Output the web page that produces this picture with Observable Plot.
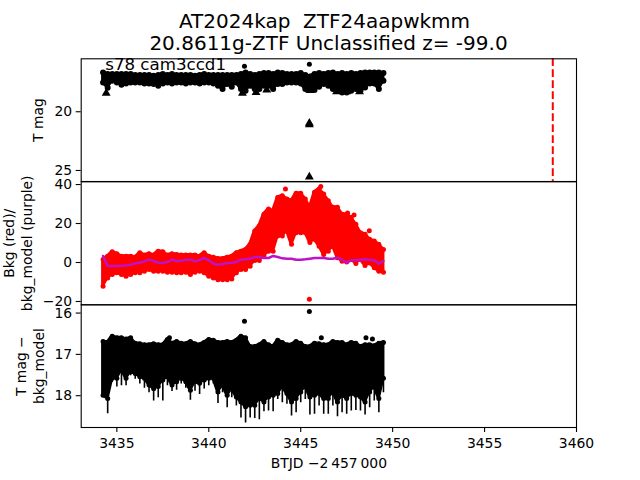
<!DOCTYPE html>
<html><head><meta charset="utf-8">
<script src="https://cdn.jsdelivr.net/npm/d3@7"></script>
<script src="https://cdn.jsdelivr.net/npm/@observablehq/plot@0.6"></script>
<style>
html,body{margin:0;padding:0;background:#fff;}
#chart{position:relative;width:640px;height:480px;overflow:hidden;font-family:"DejaVu Sans";}
#chart svg{position:absolute;left:0;top:0;}
.t{position:absolute;left:8.5px;width:640px;text-align:center;font-size:20px;line-height:22px;white-space:pre;color:#000;}
</style></head><body><div id="chart">
<div class="t" style="top:10px;left:4.5px">AT2024kap  ZTF24aapwkmm</div>
<div class="t" style="top:32px">20.8611g-ZTF Unclassified z= -99.0</div>
</div>
<script>
const btjd = [3434.25,3434.5,3434.75,3435,3435.25,3435.5,3435.75,3436,3436.25,3436.5,3436.75,3437,3437.25,3437.5,3437.75,3438,3438.25,3438.5,3438.75,3439,3439.25,3439.5,3439.75,3440,3440.25,3440.5,3440.75,3441,3441.25,3441.5,3441.75,3442,3442.25,3442.5,3442.75,3443,3443.25,3443.5,3443.75,3444,3444.25,3444.5,3444.75,3445,3445.25,3445.5,3445.75,3446,3446.25,3446.5,3446.75,3447,3447.25,3447.5,3447.75,3448,3448.25,3448.5,3448.75,3449,3449.25,3449.5];

// Top panel: T mag envelope
const magHi = [16.65,16.79,16.79,16.79,16.79,16.79,16.79,16.88,16.88,16.88,16.88,16.93,16.88,16.79,16.88,16.79,16.88,16.88,16.88,16.88,16.93,16.88,16.79,16.88,16.88,16.88,16.88,16.88,16.88,16.88,16.79,16.65,16.79,16.88,16.79,16.71,16.71,16.79,16.65,16.71,16.79,16.79,16.79,16.71,16.88,16.99,16.79,16.71,16.79,16.71,16.65,16.79,16.71,16.79,16.71,16.79,16.71,16.65,16.65,16.65,16.65,16.71];
const magLo = [17.50,17.95,17.36,17.50,17.70,17.59,17.50,17.50,17.50,17.59,17.59,17.64,17.78,17.59,17.50,17.59,17.50,17.50,17.59,17.50,17.50,17.59,17.50,17.50,17.59,17.78,18.07,17.64,17.87,17.50,18.07,18.21,17.78,18.07,18.07,17.78,17.78,18.07,17.64,17.64,17.50,17.50,17.50,17.59,18.07,18.15,18.15,17.87,17.64,17.78,18.07,18.21,18.35,18.35,18.21,18.07,18.21,17.93,17.59,17.59,18.07,17.36];
const triX = [3434.42,3441.83,3442.57,3443.15,3445.5,3446.95,3447.5,3448.2,3445.47,3445.47,3445.47];
const triMag = [18.42,18.42,18.36,18.14,18.19,18.28,18.28,18.28,20.97,21.1,25.55];
const magDotX = [3441.94,3445.47];
const magDotY = [16.13,15.96];
const dropX = [3458.71];

// Middle panel: background and its model
const bkgHi = [1.5,3.2,5.5,4.5,3.2,3.2,3.2,2.7,5,3.8,4.5,3.8,5.8,5.5,3.8,4.5,4.1,3.8,3.8,3.8,3.8,3.2,5,3.2,2.7,2.1,2.1,2.7,3.2,5,5.8,6.7,9.3,16.2,18.8,24.8,27.4,26.5,33.4,34.3,32.6,31.7,35.5,35.5,32.6,28.3,36,37.7,35.1,31.7,28.3,28.3,24.8,24.8,23.1,19.6,15.3,14.5,11.9,11,9.3,6.7];
const bkgLo = [-12.2,-7.9,-6.2,-5.3,-6.2,-7.1,-6.2,-5.3,-5.3,-4.5,-3.6,-4.5,-4.5,-4.5,-5,-5,-5.3,-5.3,-5,-6.2,-5,-4.5,-5.3,-7.1,-7.9,-8.8,-8.8,-8.8,-8.5,-5.3,-3.6,-3.6,-1.9,1,1,3.3,5.8,5.8,13.6,13.6,16.2,9.3,15.3,15.3,15.3,10.2,11.9,8.4,4.1,5.8,8.4,2.4,0.7,0.2,1.5,-0.5,1.5,-1.6,-0.2,-2.7,-4.5,-5];
const bkgModel = [3.35,-1.82,-1.82,-1.82,-1.65,-1.48,-1.13,-0.44,-0.1,0.59,1.45,0.76,-0.1,-0.27,0.25,1.45,0.76,0.76,1.45,1.45,0.59,1.28,2.31,1.11,-0.61,-1.13,-0.79,-0.27,-0.1,0.25,1.45,1.62,1.97,2.83,2.83,2.31,2.31,3.35,2.83,2.14,1.97,1.97,1.45,1.45,1.62,1.97,2.31,2.31,2.31,1.97,1.97,2.48,1.45,-0.1,1.11,1.11,1.45,1.62,1.45,1.11,-0.61,0.76];
const bkgDotX = [3444.17,3446.09,3447.9,3447.55,3448.73,3445.47];
const bkgDotY = [37.7,39,24.4,25.4,16.3,-18.9];

// Bottom panel: T mag minus bkg_model
const diffHi = [16.69,16.71,16.56,16.60,16.60,16.63,16.60,16.73,16.74,16.77,16.77,16.74,16.77,16.77,16.64,16.73,16.69,16.73,16.74,16.69,16.74,16.77,16.71,16.64,16.66,16.71,16.71,16.69,16.71,16.66,16.56,16.60,16.81,16.81,16.77,16.69,16.77,16.81,16.66,16.71,16.77,16.77,16.69,16.73,16.81,16.81,16.73,16.74,16.77,16.77,16.69,16.71,16.71,16.77,16.71,16.73,16.81,16.77,16.77,16.79,16.73,16.71];
const diffLo = [17.99,18.07,17.58,17.58,17.38,17.58,17.42,17.46,17.54,17.58,17.74,17.83,17.78,17.62,17.54,17.74,17.66,17.58,17.66,17.87,17.66,17.70,17.62,17.58,17.58,17.91,17.74,17.99,17.83,18.03,18.15,18.27,18.23,18.23,18.07,18.15,18.03,17.99,17.95,17.78,17.95,18.15,18.07,17.91,17.78,18.03,17.99,17.95,18.07,18.07,17.91,18.15,17.99,18.07,17.95,17.99,18.03,18.15,17.91,17.78,18.07,17.58];
const diffBar = [18.05,18.44,17.68,17.79,17.76,17.76,17.52,17.60,17.72,17.82,17.93,18.13,18.05,18.13,17.76,17.90,17.87,17.72,17.82,18.11,17.89,17.97,17.84,17.76,17.72,18.19,17.93,18.29,18.05,18.25,18.54,18.66,18.54,18.55,18.58,18.39,18.37,18.39,18.09,18.17,18.21,18.49,18.41,18.17,18.09,18.47,18.45,18.25,18.45,18.45,18.25,18.51,18.41,18.45,18.37,18.36,18.37,18.47,18.29,18.13,18.41,17.93];
const diffDotX = [3441.94,3445.47,3437.86,3446.12,3448.55,3448.9];
const diffDotY = [16.2,15.96,16.6,16.6,16.6,16.63];

const xTicks = [3435,3440,3445,3450,3455,3460];
const xDomain = [3433.06,3460];
const minus = d => String(d).replace("-","\u2212");
const FS = 13.9;
const chart = document.getElementById("chart");

function rows(hi, lo){ return btjd.map((x,i)=>({x, hi:hi[i], lo:lo[i]})); }
function panel(top, bottom, yDomain, yTicks, marks){
  const svg = Plot.plot({
    width:640, height:480,
    marginLeft:80.7, marginRight:64, marginTop:top, marginBottom:480-bottom,
    x:{domain:xDomain, axis:null},
    y:{domain:yDomain, axis:null},
    style:{background:"transparent", fontFamily:"DejaVu Sans", overflow:"visible", color:"#000"},
    marks:[
      ...marks,
      Plot.axisY({ticks:yTicks, tickSize:5, tickPadding:4, fontSize:FS, label:null, tickFormat:minus, strokeWidth:1.1}),
      Plot.frame({stroke:"#000", strokeWidth:1.1})
    ]
  });
  chart.appendChild(svg);
}
function band(data, color, r){
  return [
    Plot.areaY(data,{x:"x",y1:"hi",y2:"lo",fill:color,stroke:color,strokeWidth:3}),
    Plot.dot(data,{x:"x",y:"hi",r,fill:color,clip:"frame"}),
    Plot.dot(data,{x:"x",y:"lo",r,fill:color,clip:"frame"})
  ];
}
function yLabel(text, dx){
  return Plot.text([text],{frameAnchor:"left",dx,rotate:-90,fontSize:FS,fill:"#000",lineHeight:1.33,textAnchor:"middle"});
}

panel(58.3,181,[25.94,15.49],[20,25],[
  ...band(rows(magHi,magLo),"#000",3),
  Plot.dot(triX,{x:d=>d,y:(d,i)=>triMag[i],symbol:"triangle",r:3.3,fill:"#000",clip:"frame"}),
  Plot.dot(magDotX,{x:d=>d,y:(d,i)=>magDotY[i],r:2.5,fill:"#000"}),
  Plot.ruleX(dropX,{x:d=>d,stroke:"#ff0000",strokeWidth:2,strokeDasharray:"7.7,3.3"}),
  Plot.text(["s78 cam3ccd1"],{frameAnchor:"top-left",dx:24,dy:-1,fontSize:16.67,fill:"#000",lineAnchor:"top"}),
  yLabel("T mag",-44)
]);
panel(181.3,304.3,[-21.7,41.4],[-20,0,20,40],[
  ...band(rows(bkgHi,bkgLo),"#ff0000",2.5),
  Plot.dot(bkgDotX,{x:d=>d,y:(d,i)=>bkgDotY[i],r:2.5,fill:"#ff0000"}),
  Plot.line(btjd,{x:d=>d,y:(d,i)=>bkgModel[i],stroke:"#bf12c8",strokeWidth:2.5}),
  yLabel("Bkg (red)/\nbkg_model (purple)",-64)
]);
panel(304.3,427,[18.77,15.80],[16,17,18],[
  Plot.ruleX(rows(diffLo,diffBar),{x:"x",y1:"hi",y2:"lo",stroke:"#000",strokeWidth:1.6,clip:"frame"}),
  ...band(rows(diffHi,diffLo),"#000",2.5),
  Plot.dot(diffDotX,{x:d=>d,y:(d,i)=>diffDotY[i],r:2.5,fill:"#000"}),
  yLabel("T mag \u2212\nbkg_model",-52),
  Plot.axisX({ticks:xTicks, tickSize:5, tickPadding:6, fontSize:FS, label:null, tickFormat:d=>String(d), strokeWidth:1.1}),
  Plot.text(["BTJD \u22122\u2009457\u2009000"],{frameAnchor:"bottom",dy:40,fontSize:FS,fill:"#000"})
]);
</script></body></html>
